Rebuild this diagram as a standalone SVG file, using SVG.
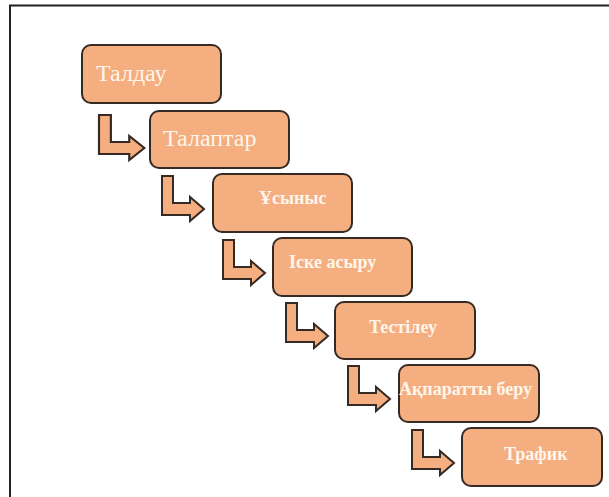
<svg xmlns="http://www.w3.org/2000/svg" width="609" height="497" viewBox="0 0 609 497">
<style>
.box{fill:#F4AE7F;stroke:#352a24;stroke-width:2}
.arr{fill:#F4AE7F;stroke:#352a24;stroke-width:2;stroke-linejoin:miter}
.t1{font-family:"Liberation Serif","DejaVu Serif",serif;font-size:24px;fill:#FFF6EC}
.t2{font-family:"Liberation Serif","DejaVu Serif",serif;font-size:18px;font-weight:bold;fill:#FFF6EC}
</style>
<defs>
<path id="bend" d="M0,0 H11 V27 H28 V21 L42,33 L28,45 V39 H0 Z"/>
</defs>
<rect x="0" y="0" width="609" height="497" fill="#fff"/>
<rect x="10" y="5.5" width="640" height="520" fill="none" stroke="#222" stroke-width="2"/>
<g id="connectors">
<use href="#bend" class="arr" transform="translate(99,115) scale(1.08,1)"/>
<use href="#bend" class="arr" x="162" y="176"/>
<use href="#bend" class="arr" x="223" y="240"/>
<use href="#bend" class="arr" x="286" y="303"/>
<use href="#bend" class="arr" x="348" y="366"/>
<use href="#bend" class="arr" x="412" y="430"/>
</g>
<g id="n1"><rect class="box" x="82" y="45" width="139" height="58" rx="9"/><text class="t1" x="96" y="81">Талдау</text></g>
<g id="n2"><rect class="box" x="150" y="111" width="139" height="57" rx="9"/><text class="t1" x="163" y="146">Талаптар</text></g>
<g id="n3"><rect class="box" x="213" y="174" width="139" height="58" rx="9"/><text class="t2" x="259" y="204">Ұсыныс</text></g>
<g id="n4"><rect class="box" x="273" y="238" width="139" height="58" rx="9"/><text class="t2" x="289" y="268">Іске асыру</text></g>
<g id="n5"><rect class="box" x="335" y="302" width="140" height="57" rx="9"/><text class="t2" x="369" y="333">Тестілеу</text></g>
<g id="n6"><rect class="box" x="399" y="365" width="140" height="57" rx="9"/><text class="t2" x="399" y="395">Ақпаратты беру</text></g>
<g id="n7"><rect class="box" x="462" y="428" width="140" height="58" rx="9"/><text class="t2" x="504" y="460">Трафик</text></g>
</svg>
